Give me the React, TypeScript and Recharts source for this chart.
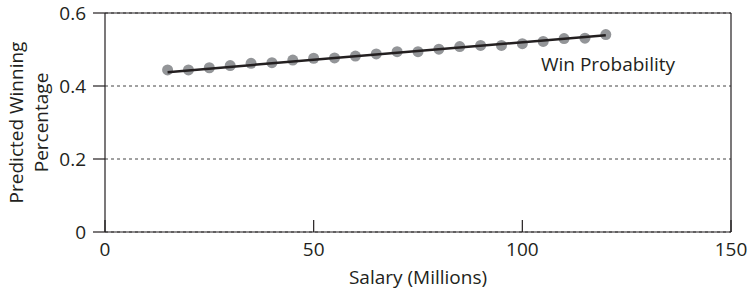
import { ComposedChart, Scatter, XAxis, YAxis, CartesianGrid, ReferenceLine, Legend } from 'recharts';

// salary in millions, predicted winning percentage
const salary = [15, 20, 25, 30, 35, 40, 45, 50, 55, 60, 65, 70, 75, 80, 85, 90, 95, 100, 105, 110, 115, 120];
const winPct = [
  0.444, 0.444, 0.45, 0.456, 0.462, 0.464, 0.471, 0.476, 0.477, 0.482, 0.488,
  0.494, 0.494, 0.501, 0.508, 0.511, 0.511, 0.516, 0.522, 0.53, 0.531, 0.541,
];
// ends of the fitted line
const fitX = [15, 120];
const fitY = [0.438, 0.539];

const xTicks = [0, 50, 100, 150];
const yTicks = [0, 0.2, 0.4, 0.6];

const dots = salary.map((s, i) => ({ salary: s, win: winPct[i] }));
const fit = fitX.map((s, i) => ({ salary: s, win: fitY[i] }));

const ink = '#231f20';
const font = '"Open Sans", sans-serif';
const fs = 19;

const XTick = (props: any) => {
  const { x, y, payload } = props;
  return (
    <g>
      <line x1={x} x2={x} y1={y - 12} y2={y} stroke={ink} strokeWidth={1.2} />
      <text x={x} y={y + 11} dy="0.71em" textAnchor="middle" fill={ink} fontSize={fs} fontFamily={font}>
        {payload.value}
      </text>
    </g>
  );
};

const YTitle = (props: any) => {
  const { viewBox } = props;
  const cy = viewBox.y + viewBox.height / 2;
  return (
    <g fill={ink} fontSize={fs} fontFamily={font}>
      <text transform={`translate(23, ${cy}) rotate(-90)`} textAnchor="middle">Predicted Winning</text>
      <text transform={`translate(48, ${cy}) rotate(-90)`} textAnchor="middle">Percentage</text>
    </g>
  );
};

const Dot = (props: any) => <circle cx={props.cx} cy={props.cy} r={5.5} fill="#939598" />;
const NoDot = () => <g />;

export default function App() {
  return (
    <div style={{ position: 'absolute', left: 0, top: 0, background: '#fff' }}>
      <ComposedChart width={750} height={292} margin={{ top: 13, right: 19, bottom: 0, left: 0 }}>
        <CartesianGrid vertical={false} stroke="#444" strokeDasharray="3 3" />
        <XAxis
          dataKey="salary"
          type="number"
          domain={[0, 150]}
          ticks={xTicks}
          height={60}
          tickSize={0}
          tickMargin={0}
          tick={<XTick />}
          axisLine={{ stroke: ink, strokeWidth: 1.2 }}
          label={{ value: 'Salary (Millions)', position: 'insideBottom', offset: 8, fill: ink, fontSize: fs, fontFamily: font }}
        />
        <YAxis
          type="number"
          domain={[0, 0.6]}
          ticks={yTicks}
          width={105}
          tickSize={12}
          tickMargin={7}
          tick={{ fill: ink, fontSize: fs, fontFamily: font }}
          tickLine={{ stroke: ink, strokeWidth: 1.2 }}
          axisLine={{ stroke: ink, strokeWidth: 1.2 }}
          label={{ content: <YTitle /> }}
        />
        <ReferenceLine y={0.6} stroke={ink} strokeWidth={1.2} />
        <ReferenceLine x={150} stroke={ink} strokeWidth={1.2} />
        <Scatter data={dots} dataKey="win" shape={<Dot />} isAnimationActive={false} />
        <Scatter
          data={fit}
          dataKey="win"
          shape={<NoDot />}
          line={{ stroke: ink, strokeWidth: 2.5 }}
          isAnimationActive={false}
        />
        <Legend
          layout="horizontal"
          verticalAlign="middle"
          align="center"
          wrapperStyle={{ left: 541, top: 51, width: 'auto' }}
          content={() => (
            <span style={{ fontFamily: font, fontSize: fs, color: ink, whiteSpace: 'nowrap' }}>Win Probability</span>
          )}
        />
      </ComposedChart>
    </div>
  );
}
